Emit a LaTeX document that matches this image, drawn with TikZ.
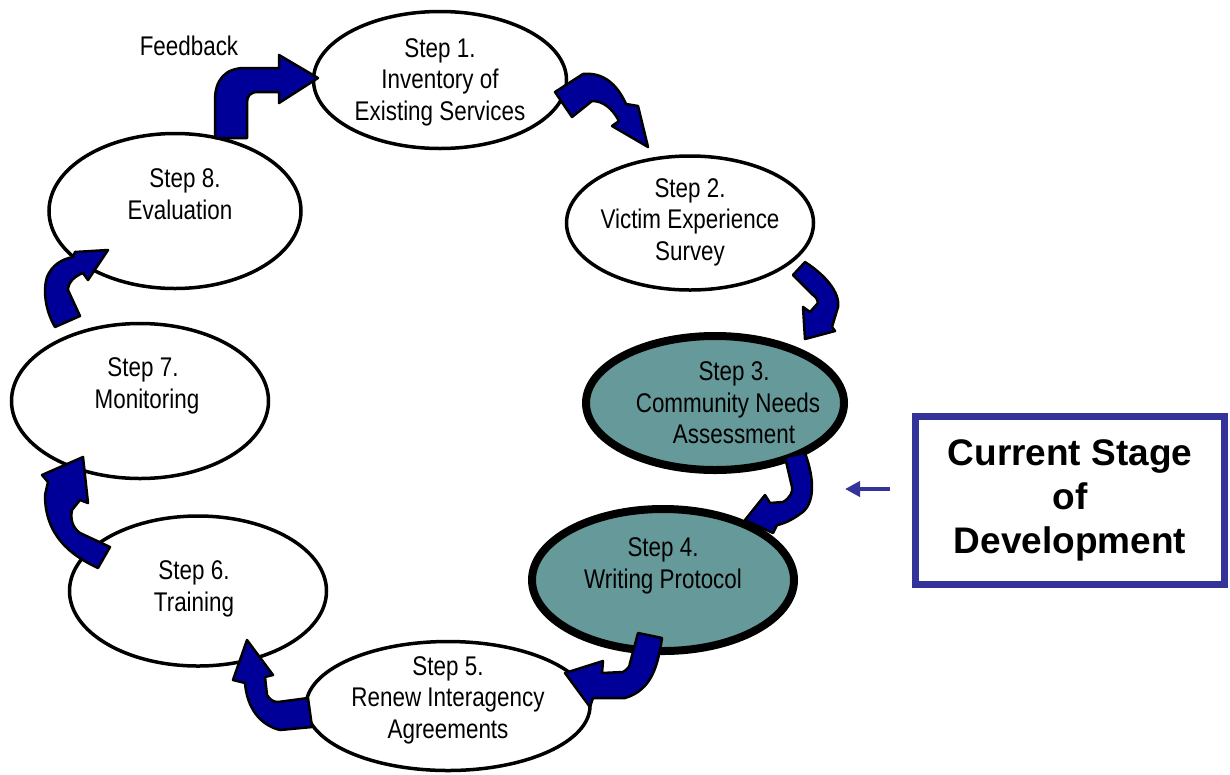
\documentclass[tikz,border=0pt]{standalone}
\usepackage{fontspec}
\setmainfont{Liberation Sans}
\newfontfamily\narrowfont[FakeStretch=0.83]{Liberation Sans}
\usetikzlibrary{shapes.geometric,arrows.meta}
\definecolor{tealstage}{RGB}{102,153,153}
\definecolor{arrowblue}{RGB}{0,0,153}
\definecolor{boxblue}{RGB}{51,51,153}
\tikzset{
  stage/.style={ellipse, draw=black, line width=3.5pt, fill=white, inner sep=0pt},
  current/.style={stage, fill=tealstage, line width=8pt},
  steptext/.style={font=\narrowfont\fontsize{27}{31.5}\selectfont, align=center, inner sep=0pt},
  bent/.style={fill=arrowblue, draw=black, line width=2.5pt, line join=round},
}
\begin{document}
\begin{tikzpicture}[x=1pt,y=-1pt]
\useasboundingbox (0,0) rectangle (1230,774);

% ellipses
\node[stage, minimum width=253pt, minimum height=137pt] (s1) at (440,80) {};
\node[stage, minimum width=247pt, minimum height=134pt] (s2) at (690,223) {};
\node[current, minimum width=258pt, minimum height=134pt] (s3) at (715,403) {};
\node[current, minimum width=262pt, minimum height=142pt] (s4) at (663,580) {};
\node[stage, minimum width=284pt, minimum height=129pt] (s5) at (448,706) {};
\node[stage, minimum width=257pt, minimum height=150pt] (s6) at (198,591) {};
\node[stage, minimum width=257pt, minimum height=155pt] (s7) at (140,401) {};
\node[stage, minimum width=252pt, minimum height=155pt] (s8) at (175,211) {};

% texts
\node[steptext] (t1) at (440,82) {Step 1.\\Inventory of\\Existing Services};
\node[steptext] (t2) at (690,222) {Step 2.\\Victim Experience\\Survey};
\node[steptext] (t3) at (728,403) {\hspace*{12pt}Step 3.\\Community Needs\\\hspace*{12pt}Assessment};
\node[steptext] (t4) at (663,566) {Step 4.\\Writing Protocol};
\node[steptext] (t5) at (448,700) {Step 5.\\Renew Interagency\\Agreements};
\node[steptext] (t6) at (194,589) {Step 6.\\Training};
\node[steptext] (t7) at (143,386) {Step 7.\\\hspace*{8pt}Monitoring};
\node[steptext] (t8) at (180,194) {\hspace*{10pt}Step 8.\\Evaluation};
\node[steptext] (fb) at (189,46) {Feedback};

% bent block arrows
\path[bent] (215,138) -- (215,100) .. controls (215,80) and (225,68) .. (245,68) -- (279,68) -- (279,55) -- (318,78) -- (279,103) -- (279,92) -- (258,92) .. controls (250,92) and (247,96) .. (247,103) -- (247,138) -- cycle;
\path[bent] (555,92) -- (583,74) .. controls (603,72) and (617,84) .. (626,104) -- (638,106) -- (648,147) -- (612,126) -- (619,121) .. controls (612,108) and (603,101) .. (592,101) -- (572,117) -- cycle;
\path[bent] (793,275) -- (805,262) .. controls (825,275) and (840,292) .. (838,307) -- (832,327) -- (835,331) -- (805,339) -- (803,307) -- (810,312) -- (818,303) .. controls (817,298) and (815,296) .. (813,295) -- cycle;
\path[bent] (785,457) -- (805,453) .. controls (815,480) and (815,505) .. (800,514) .. controls (792,520) and (783,524) .. (777,525) -- (773,533) -- (745,520) -- (765,495) -- (770,503) -- (783,502) .. controls (790,498) and (793,492) .. (792,487) -- cycle;
\path[bent] (638,633) -- (662,638) .. controls (658,665) and (652,690) .. (625,698) -- (593,698) -- (590,707) -- (565,673) -- (603,661) -- (602,673) -- (623,672) .. controls (628,669) and (630,666) .. (630,663) -- cycle;
\path[bent] (308,698) -- (312,727) -- (280,730) .. controls (260,725) and (247,708) .. (245,683) -- (233,680) -- (247,640) -- (273,675) -- (265,677) -- (267,695) .. controls (270,700) and (274,702) .. (278,702) -- cycle;
\path[bent] (110,547) -- (98,568) .. controls (70,555) and (45,535) .. (45,495) -- (48,482) -- (42,475) -- (83,457) -- (88,503) -- (80,500) -- (72,510) .. controls (70,520) and (73,528) .. (80,533) -- cycle;
\path[bent] (55,327) .. controls (45,310) and (43,290) .. (47,277) .. controls (52,265) and (62,259) .. (73,257) -- (75,252) -- (108,250) -- (88,280) -- (83,273) .. controls (75,276) and (68,282) .. (68,290) -- (80,316) -- cycle;

% current stage box
\node[draw=boxblue, line width=7pt, fill=white, minimum width=309pt, minimum height=168pt, align=center, inner sep=0pt,
      font=\bfseries\fontsize{37}{44}\selectfont] (cur) at (1070,500.5) {Current Stage\\of\\Development};
\coordinate (pa) at ([xshift=-22pt,yshift=11.5pt]cur.west);
\coordinate (pb) at ([xshift=-67pt,yshift=11.5pt]cur.west);
\draw[boxblue, line width=4pt, -{Triangle[length=15pt,width=15pt]}] (pa) -- (pb);
\end{tikzpicture}
\end{document}
